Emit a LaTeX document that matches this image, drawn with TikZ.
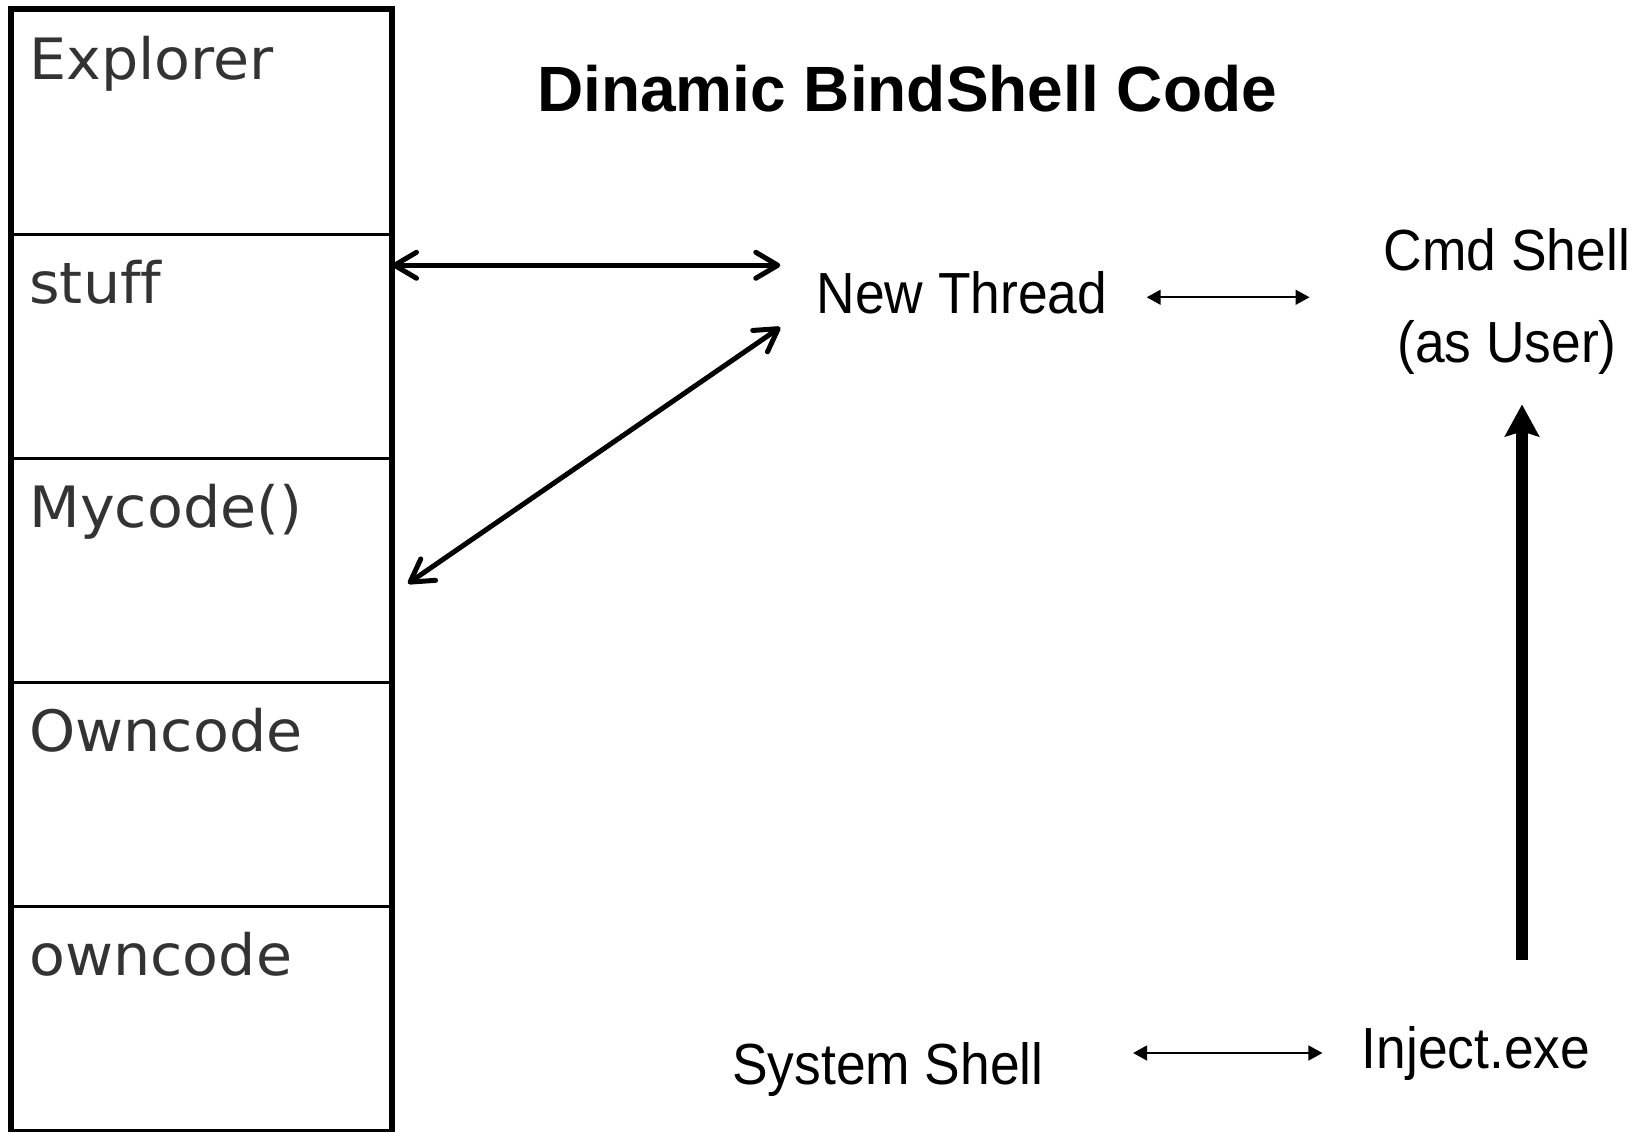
\documentclass[tikz,border=0pt]{standalone}
\usepackage{fontspec}
\usetikzlibrary{arrows.meta,calc}
\newfontfamily\stackfont[Ligatures=NoCommon,FakeStretch=1.03]{DejaVu Sans}
\newfontfamily\lblfont[FakeStretch=0.92]{Liberation Sans}
\newfontfamily\titlefont{Liberation Sans}
\definecolor{stackgray}{RGB}{51,51,51}

\begin{document}
\begin{tikzpicture}[x=0.5pt,y=-0.5pt]

\def\sw{189pt}
\def\sh{112pt}
\def\sy{224}
\tikzstyle{section} = [
	draw, line width=1.5pt, rectangle, anchor=north west, inner sep=0pt,
	minimum width=\sw, minimum height=\sh ];
\tikzstyle{stacklbl} = [
	anchor=base west, inner sep=0pt, xshift=9pt, yshift=-35pt,
	text=stackgray, font=\stackfont\fontsize{28.5}{34}\selectfont ];
\tikzstyle{plain} = [inner sep=0pt, anchor=base, font=\lblfont\fontsize{29}{46}\selectfont];
\tikzstyle{twoway} = [
	{Straight Barb[length=11pt,width=13pt,round]}-{Straight Barb[length=11pt,width=13pt,round]},
	line width=2.5pt ];
\tikzstyle{thinway} = [
	{Triangle[length=7pt,width=7.5pt]}-{Triangle[length=7pt,width=7.5pt]},
	line width=0.8pt ];
\tikzstyle{upway} = [-{Stealth[length=16pt,width=17pt,inset=2.5pt]}, line width=6pt];
\useasboundingbox (0,0) rectangle (1645,1131);

% the stack
\node[section,label={[stacklbl]north west:Explorer}] (s0) at (11,9+0*\sy) {};
\node[section,label={[stacklbl]north west:stuff}] (s1) at (11,9+1*\sy) {};
\node[section,label={[stacklbl]north west:Mycode()}] (s2) at (11,9+2*\sy) {};
\node[section,label={[stacklbl]north west:Owncode}] (s3) at (11,9+3*\sy) {};
\node[section,label={[stacklbl]north west:owncode}] (s4) at (11,9+4*\sy) {};
\draw[line width=3.2pt] (s0.north west) rectangle (s4.south east);

\node[inner sep=0pt, anchor=base, font=\titlefont\bfseries\fontsize{32}{38}\selectfont]
	(title) at (907,111) {Dinamic BindShell Code};

\node[plain] (thread) at (962,313) {New Thread};
\node[plain,align=center] (cmd) at (1507,362) {Cmd Shell\\(as User)};
\node[plain] (sysshell) at (888,1084) {System Shell};
\node[plain] (inject) at (1476,1068) {Inject.exe};

\coordinate (tin1) at ($(thread.west)+(-36,-27)$);
\coordinate (tin2) at ($(thread.west)+(-36,35)$);
\coordinate (tout) at ($(thread.east)+(0,5)$);
\coordinate (upx) at (1522,0);

\draw[twoway] (s1.east |- tin1) -- (tin1);
\draw[twoway] ($(s2.east)+(16,13)$) -- (tin2);
\draw[thinway, shorten <=19.5pt, shorten >=37pt] (tout) -- (tout -| cmd.west);
\draw[thinway, shorten <=44.5pt, shorten >=19.5pt] (inject.west -| sysshell.east) -- (inject.west);
\draw[upway, shorten <=33pt, shorten >=15pt] (inject.north -| upx) -- (cmd.south -| upx);

\end{tikzpicture}
\end{document}
